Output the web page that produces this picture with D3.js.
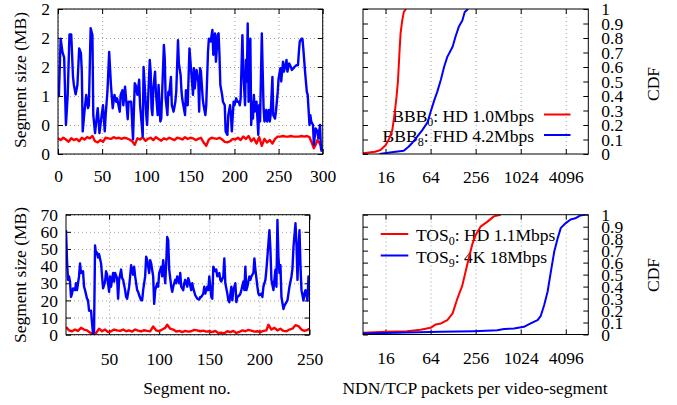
<!DOCTYPE html>
<html><head><meta charset="utf-8">
<script src="https://cdn.jsdelivr.net/npm/d3@7"></script>
<style>
body{margin:0;background:#fff}
svg{display:block}
text{font-family:"Liberation Serif","Times New Roman",serif;fill:#000}
</style>
</head><body>
<script>
// ---------- DATA ----------
// Top-left: BBB segment sizes (MB) per segment no. [segment, MB]
const bbbHD = [[0,0.27],[3,0.24],[6,0.28],[9,0.25],[12,0.21],[15,0.27],[18,0.24],[21,0.26],[24,0.22],[27,0.28],[30,0.25],[33,0.29],[36,0.27],[39,0.31],[42,0.22],[45,0.20],[48,0.24],[51,0.21],[54,0.28],[57,0.27],[60,0.26],[63,0.29],[66,0.27],[69,0.28],[72,0.26],[75,0.28],[78,0.27],[81,0.25],[84,0.22],[87,0.16],[90,0.27],[93,0.25],[96,0.29],[99,0.23],[102,0.26],[105,0.28],[108,0.24],[111,0.29],[114,0.26],[117,0.23],[120,0.27],[123,0.25],[126,0.28],[129,0.26],[132,0.24],[135,0.28],[138,0.27],[141,0.25],[144,0.29],[147,0.26],[150,0.28],[153,0.27],[156,0.24],[159,0.26],[162,0.28],[165,0.20],[168,0.14],[171,0.25],[174,0.28],[177,0.27],[180,0.26],[183,0.28],[186,0.25],[189,0.21],[192,0.20],[195,0.22],[198,0.26],[201,0.25],[204,0.28],[207,0.24],[210,0.30],[213,0.26],[216,0.31],[219,0.22],[222,0.27],[225,0.18],[228,0.29],[231,0.14],[234,0.26],[237,0.20],[240,0.24],[243,0.18],[246,0.26],[249,0.30],[252,0.30],[255,0.31],[258,0.30],[261,0.30],[264,0.31],[267,0.30],[270,0.30],[273,0.30],[276,0.31],[279,0.30],[282,0.31],[285,0.29],[288,0.18],[290,0.10],[292,0.16],[294,0.24],[296,0.20],[298,0.14],[299,0.08]];
const bbbFHD = [[0,1.0],[1,1.0],[3,1.99],[5,1.76],[7,1.66],[9,0.50],[11,1.02],[13,2.06],[15,2.06],[17,1.33],[18,1.19],[20,1.03],[22,1.19],[24,1.82],[26,1.74],[27,1.42],[28,0.39],[30,0.73],[32,1.02],[34,0.79],[35,0.84],[37,2.17],[39,2.05],[40,0.67],[42,0.36],[45,0.79],[47,0.36],[49,0.61],[51,0.84],[53,0.39],[54,0.67],[56,1.07],[58,1.76],[60,1.19],[62,0.79],[64,1.02],[66,0.90],[67,0.96],[70,0.73],[71,1.02],[73,1.10],[74,0.84],[76,1.16],[78,0.79],[79,0.60],[80,0.90],[83,0.90],[84,0.56],[85,0.25],[87,1.22],[88,1.19],[90,1.02],[92,1.28],[93,0.84],[94,0.67],[96,0.30],[97,1.50],[98,1.25],[100,0.67],[101,0.50],[102,0.90],[104,1.62],[105,1.42],[106,0.79],[107,0.67],[108,1.13],[110,1.42],[111,1.05],[113,0.67],[114,1.19],[116,0.56],[117,0.61],[120,1.88],[121,1.65],[122,0.96],[124,0.67],[125,1.07],[126,1.02],[128,1.33],[129,0.84],[131,0.73],[133,0.90],[134,1.07],[136,1.96],[137,1.56],[139,1.36],[140,1.07],[141,0.93],[144,0.67],[145,1.10],[146,0.96],[147,0.84],[149,1.82],[151,1.42],[153,1.02],[154,1.48],[155,1.13],[157,1.45],[159,1.25],[160,0.73],[161,1.48],[162,1.42],[164,0.96],[165,0.84],[167,0.67],[168,0.84],[170,1.76],[171,1.99],[173,1.94],[175,2.14],[176,1.71],[177,1.94],[178,2.08],[179,1.59],[181,2.05],[182,2.08],[183,1.71],[184,1.19],[186,1.02],[187,0.90],[189,0.84],[190,0.39],[192,0.33],[193,0.67],[195,0.84],[196,0.67],[197,0.39],[199,0.90],[200,0.84],[202,0.96],[203,0.90],[205,0.90],[206,0.84],[207,0.96],[209,2.05],[210,1.42],[212,0.84],[213,1.62],[214,1.25],[215,2.25],[216,0.90],[218,1.99],[219,0.50],[220,0.90],[221,0.61],[222,1.02],[223,0.73],[225,0.90],[227,0.33],[228,0.84],[229,0.56],[231,2.08],[232,1.42],[233,0.79],[234,0.56],[236,0.76],[237,0.56],[239,0.76],[240,0.56],[241,0.67],[243,1.33],[244,0.67],[246,0.61],[247,0.73],[249,1.07],[250,1.30],[252,1.48],[253,1.25],[255,1.59],[256,1.42],[257,1.48],[259,1.62],[260,1.42],[262,1.56],[264,1.50],[265,1.45],[267,1.48],[268,1.50],[270,1.53],[272,1.53],[273,1.76],[274,1.94],[276,1.99],[277,1.99],[278,1.82],[280,1.42],[282,1.07],[283,1.02],[285,0.50],[286,0.67],[287,0.56],[289,0.50],[290,0.16],[292,0.44],[294,0.39],[295,0.27],[297,0.50],[298,0.10],[299,0.04]];

// Bottom-left: TOS segment sizes (MB)
const tosHD = [[7,4.5],[10,2.5],[13,2.0],[16,3.0],[19,2.2],[22,4.0],[25,3.0],[28,2.5],[31,1.2],[34,0.3],[37,1.0],[40,3.5],[43,2.0],[46,3.0],[49,1.5],[52,2.0],[55,3.0],[58,2.5],[61,2.2],[64,3.0],[67,2.0],[70,2.5],[73,1.8],[76,3.0],[79,2.4],[82,2.0],[85,2.6],[88,2.2],[91,2.0],[94,4.8],[97,2.5],[100,2.0],[103,3.0],[106,4.0],[108,5.8],[111,3.5],[114,3.0],[117,1.8],[120,2.2],[123,1.5],[126,2.2],[129,1.8],[132,2.0],[135,2.8],[138,2.5],[141,2.0],[144,2.4],[147,1.8],[150,2.0],[153,1.5],[156,2.2],[159,1.0],[162,1.2],[165,0.8],[168,2.0],[171,1.5],[174,2.2],[177,1.0],[180,1.6],[183,2.5],[186,2.0],[189,2.8],[192,2.4],[195,1.8],[198,2.0],[201,1.5],[204,2.2],[207,2.5],[209,5.8],[212,3.0],[215,4.0],[218,2.5],[221,3.5],[224,2.2],[227,2.0],[230,3.0],[233,3.5],[236,5.5],[239,5.0],[242,3.0],[245,2.2],[248,2.8],[250,3.5]];
const tos4K = [[7,61],[8,43.5],[9,32],[10,34],[11,31],[12,22],[13,24],[14,27],[16,26],[17,30],[18,26],[20,34],[21,41.5],[22,36],[24,37],[25,28],[26,26],[28,21],[29,20],[30,14],[32,14],[33,6.6],[34,0.5],[35,2],[36,52],[37,47],[38,48],[39,45],[40,47],[42,41.5],[43,34],[44,27],[46,31],[47,37],[48,35],[50,25],[51,34],[52,28],[54,36],[55,31],[56,36],[58,33],[59,21],[60,32],[62,38],[63,33],[64,32],[66,26],[67,22],[68,21],[70,28],[71,34],[72,40.5],[74,35],[75,39.6],[76,34],[78,26],[79,25],[80,23],[82,20],[83,20],[84,26],[86,34],[87,45.5],[88,43.5],[90,36],[91,43.5],[92,41.5],[94,34],[95,18],[96,26],[98,30],[99,28],[100,36],[102,39.6],[103,34],[104,43.5],[106,30],[107,41.5],[108,57],[109,55],[110,38],[112,28],[113,25],[114,28],[116,32],[117,30],[118,34],[120,30],[121,36],[122,28],[124,26],[125,30],[126,32],[128,28],[129,33],[130,31],[132,26],[133,30],[134,27],[136,23],[137,22],[138,21],[140,20.5],[141,22],[142,22],[144,24],[145,28],[146,24],[148,28],[149,26],[150,34],[152,22],[153,21],[154,39.6],[156,37],[157,38],[158,34],[160,36],[161,32],[162,31],[164,34],[165,44.5],[166,30],[168,24],[169,20],[170,19],[172,28],[173,20],[174,26],[176,30],[177,19],[178,22],[180,23],[181,24],[182,26],[184,31],[185,26],[186,39.6],[187,26],[188,28],[190,34],[191,32],[192,34],[194,36],[195,44.5],[196,38],[198,28],[199,24],[200,23],[202,24],[203,22],[204,28],[206,32],[207,38],[208,45.5],[210,61],[211,50],[212,32],[213,29],[214,26],[216,38],[217,28],[218,67],[219,45.5],[220,36],[221,40.5],[222,22],[224,15],[225,17],[226,18],[228,20],[229,24],[230,28],[232,34],[233,38.6],[234,51],[236,65],[237,53],[238,32],[239,49],[240,61],[241,40],[242,26],[244,20],[245,24],[246,26],[248,20],[249,34],[250,26]];

// CDFs: [packets per video-segment, CDF]
const cdfBBB0 = [[8,0.005],[11.6,0.016],[13.7,0.028],[16,0.06],[17.7,0.1],[19.7,0.165],[21.2,0.28],[22.5,0.4],[23.5,0.51],[24.5,0.69],[25.4,0.83],[26.7,0.92],[28.1,0.98],[30.1,1.0]];
const cdfBBB8 = [[13.3,0.0],[18.3,0.01],[28,0.023],[32.5,0.05],[36,0.074],[42.4,0.12],[49.6,0.165],[58.5,0.22],[64,0.29],[71.6,0.37],[78.7,0.43],[87.6,0.51],[96.9,0.6],[107,0.67],[126,0.74],[138,0.81],[153,0.88],[170,0.92],[183,0.98],[203,1.0]];
const cdfTOS0 = [[8,0.014],[16,0.022],[31,0.028],[47,0.04],[64,0.056],[75,0.084],[88,0.092],[107,0.12],[126,0.176],[146,0.30],[170,0.41],[188,0.525],[208,0.64],[230,0.75],[256,0.83],[298,0.90],[365,0.94],[448,0.986],[553,1.0]];
const cdfTOS9 = [[8,0.008],[31,0.017],[88,0.022],[243,0.028],[497,0.036],[614,0.045],[832,0.05],[1132,0.064],[1390,0.092],[1720,0.12],[1900,0.156],[2110,0.246],[2340,0.357],[2590,0.525],[2870,0.69],[3180,0.80],[3520,0.89],[4100,0.93],[4750,0.96],[5500,0.97],[6400,0.994],[7400,1.0]];

// Ticks and labels
const tlXTicks = [0,50,100,150,200,250,300];
const tlYTicks = [0,0.5,1,1.5,2,2.5];
const tlYLabels = ["0","0","1","2","2","2"];
const blXTicks = [50,100,150,200,250];
const blYTicks = [0,10,20,30,40,50,60,70];
const logTicks = [16,64,256,1024,4096];
const cdfTicks = [0,0.1,0.2,0.3,0.4,0.5,0.6,0.7,0.8,0.9,1];
const cdfTickLabels = ["0","0.1","0.2","0.3","0.4","0.5","0.6","0.7","0.8","0.9","1"];

// ---------- DRAW ----------
const W=677,H=405,FS=17.5;
const svg=d3.select("body").append("svg").attr("width",W).attr("height",H);
const RED="#ff0000", BLUE="#0000ff";

function styleAxis(s){
  s.select(".domain").remove();
  s.selectAll("line").attr("stroke","#000");
  s.selectAll("text").attr("font-size",FS).attr("font-family",null).attr("fill","#000");
  s.attr("font-family",null).attr("font-size",null);
}
function gridStyle(s){
  s.select(".domain").remove();
  s.selectAll("line").attr("stroke","#a0a0a0").attr("stroke-width",1).attr("stroke-dasharray","1,3");
  s.selectAll("text").remove();
}
let clipId=0;
function panel(x,y,o){
  const [xl,xr]=x.range(), [yb,yt]=y.range();
  const g=svg.append("g");
  g.append("g").attr("transform",`translate(0,${yb})`)
    .call(d3.axisBottom(x).tickValues(o.xTicks).tickSize(-(yb-yt)).tickFormat("")).call(gridStyle);
  if(o.gridY){
    g.append("g").attr("transform",`translate(${xl},0)`)
      .call(d3.axisLeft(y).tickValues(o.yTicks).tickSize(-(xr-xl)).tickFormat("")).call(gridStyle);
  }
  g.append("g").attr("transform",`translate(0,${yb})`)
    .call(d3.axisBottom(x).tickValues(o.xTicks).tickSize(-5).tickPadding(o.xPad).tickFormat(o.xFmt||(d=>d))).call(styleAxis);
  g.append("g").attr("transform",`translate(0,${yt})`)
    .call(d3.axisTop(x).tickValues(o.xTicks).tickSize(-5).tickFormat("")).call(styleAxis);
  g.append("g").attr("transform",`translate(${xl},0)`)
    .call(d3.axisLeft(y).tickValues(o.yTicks).tickSize(-5).tickPadding(8).tickFormat(o.leftFmt||"")).call(styleAxis);
  g.append("g").attr("transform",`translate(${xr},0)`)
    .call(d3.axisRight(y).tickValues(o.yTicks).tickSize(-5).tickPadding(13).tickFormat(o.rightFmt||"")).call(styleAxis);
  const id="clip"+(clipId++);
  svg.append("clipPath").attr("id",id).append("rect").attr("x",xl).attr("y",yt).attr("width",xr-xl).attr("height",yb-yt);
  return {g,id,frame:()=>g.append("rect").attr("x",xl).attr("y",yt).attr("width",xr-xl).attr("height",yb-yt).attr("fill","none").attr("stroke","#000").attr("stroke-width",1)};
}
function series(p,x,y,data,color,w){
  p.g.append("path").datum(data).attr("clip-path",`url(#${p.id})`)
    .attr("fill","none").attr("stroke",color).attr("stroke-width",w).attr("stroke-linejoin","round")
    .attr("d",d3.line().x(d=>x(d[0])).y(d=>y(d[1])));
}
function legendText(g,x,y,anchor,base,sub,rest){
  const t=g.append("text").attr("x",x).attr("y",y).attr("text-anchor",anchor).attr("font-size",FS);
  t.append("tspan").text(base);
  t.append("tspan").attr("font-size",12).attr("dy",4).text(sub);
  t.append("tspan").attr("dy",-4).text(rest);
}

// Top-left
const xTL=d3.scaleLinear().domain([0,300]).range([58,322.7]);
const yTL=d3.scaleLinear().domain([0,2.5]).range([154,9]);
const pTL=panel(xTL,yTL,{xTicks:tlXTicks,yTicks:tlYTicks,gridY:true,xPad:16,leftFmt:(d,i)=>tlYLabels[i]});
series(pTL,xTL,yTL,bbbHD,RED,2.4);
series(pTL,xTL,yTL,bbbFHD,BLUE,2.4);
pTL.frame();

// Top-right
const xTR=d3.scaleLog().base(2).domain([8,8192]).range([363,588.3]);
const yTR=d3.scaleLinear().domain([0,1]).range([154,9]);
const pTR=panel(xTR,yTR,{xTicks:logTicks,yTicks:cdfTicks,gridY:false,xPad:17,rightFmt:(d,i)=>cdfTickLabels[i]});
legendText(pTR.g,534,121.5,"end","BBB","0",": HD 1.0Mbps");
legendText(pTR.g,534,141.5,"end","BBB","8",": FHD 4.2Mbps");
pTR.g.append("line").attr("x1",544).attr("x2",570.5).attr("y1",114.5).attr("y2",114.5).attr("stroke",RED).attr("stroke-width",2);
pTR.g.append("line").attr("x1",544).attr("x2",570.5).attr("y1",135).attr("y2",135).attr("stroke",BLUE).attr("stroke-width",2);
series(pTR,xTR,yTR,cdfBBB0,RED,2);
series(pTR,xTR,yTR,cdfBBB8,BLUE,2);
pTR.frame();

// Bottom-left
const xBL=d3.scaleLinear().domain([7,250]).range([66,309.5]);
const yBL=d3.scaleLinear().domain([0,70]).range([334.7,214.7]);
const pBL=panel(xBL,yBL,{xTicks:blXTicks,yTicks:blYTicks,gridY:true,xPad:18,leftFmt:d=>d});
series(pBL,xBL,yBL,tosHD,RED,2.4);
series(pBL,xBL,yBL,tos4K,BLUE,2.4);
pBL.frame();

// Bottom-right
const xBR=d3.scaleLog().base(2).domain([8,8192]).range([363,588.3]);
const yBR=d3.scaleLinear().domain([0,1]).range([334.5,214.7]);
const pBR=panel(xBR,yBR,{xTicks:logTicks,yTicks:cdfTicks,gridY:false,xPad:17.5,rightFmt:(d,i)=>cdfTickLabels[i]});
legendText(pBR.g,416,241,"start","TOS","0",": HD 1.1Mbps");
legendText(pBR.g,416,262.5,"start","TOS","9",": 4K 18Mbps");
pBR.g.append("line").attr("x1",380.7).attr("x2",408.3).attr("y1",234).attr("y2",234).attr("stroke",RED).attr("stroke-width",2);
pBR.g.append("line").attr("x1",380.7).attr("x2",408.3).attr("y1",255.5).attr("y2",255.5).attr("stroke",BLUE).attr("stroke-width",2);
series(pBR,xBR,yBR,cdfTOS0,RED,2);
series(pBR,xBR,yBR,cdfTOS9,BLUE,2);
pBR.frame();

// Axis titles
function rotText(x,y,s){svg.append("text").attr("transform",`translate(${x},${y}) rotate(-90)`).attr("text-anchor","middle").attr("dy","0.35em").attr("font-size",FS).text(s);}
rotText(20,80,"Segment size (MB)");
rotText(20,275,"Segment size (MB)");
rotText(653,84,"CDF");
rotText(653,275,"CDF");
svg.append("text").attr("x",187).attr("y",388).attr("dy","0.35em").attr("text-anchor","middle").attr("font-size",FS).text("Segment no.");
svg.append("text").attr("x",475).attr("y",388).attr("dy","0.35em").attr("text-anchor","middle").attr("font-size",FS).text("NDN/TCP packets per video-segment");
</script>
</body></html>
